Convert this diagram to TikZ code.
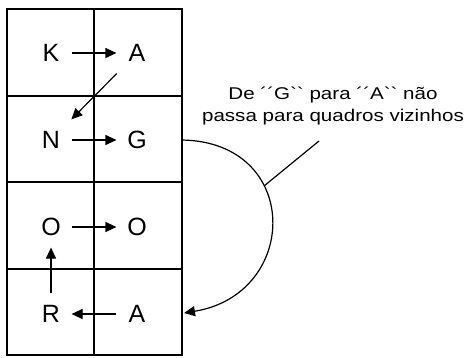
\documentclass[tikz,border=0pt]{standalone}
\usepackage{fontspec}
\setmainfont{Liberation Sans}
\newfontfamily\notefont{Liberation Sans}[FakeStretch=1.21]
\usepackage{tikz}
\usetikzlibrary{arrows.meta}

\begin{document}
\begin{tikzpicture}[
  x=1pt, y=-1pt, line width=1.2pt, >={Triangle[length=11pt,width=10pt]},
  letter/.style={inner sep=0pt, minimum width=40pt, minimum height=40pt,
                 font=\fontsize{25}{28}\selectfont},
  note/.style={align=center, font=\notefont\fontsize{17}{22}\selectfont},
  arr/.style={->, line width=1.2pt},
]
\useasboundingbox (0,0) rectangle (472,357);

% frame of two columns and four rows
\draw (7,9) rectangle (182,355);
\draw (94,9) -- (94,355);
\foreach \y in {96,182,269}
  \draw (7,\y) -- (182,\y);

% letters
\node[letter] (k)  at (51,53)  {K};
\node[letter] (a1) at (137,53) {A};
\node[letter] (n)  at (51,140) {N};
\node[letter] (g)  at (137,140) {G};
\node[letter] (o1) at (51,227) {O};
\node[letter] (o2) at (137,227) {O};
\node[letter] (r)  at (51,314) {R};
\node[letter] (a2) at (137,314) {A};

\draw[arr] (k)  -- (a1);
\draw[arr] (a1) -- (n);
\draw[arr] (n)  -- (g);
\draw[arr] (o1) -- (o2);
\draw[arr] (r)  -- (o1);
\draw[arr] (a2) -- (r);

% jump from G back down to A, outside the frame
\coordinate (gout) at (182,140);
\coordinate (ain)  at (184,313);
\draw[arr] (gout) .. controls (302,142) and (300,294) .. (ain);

\node[note] (rem) at (333,106) {De ´´G`\kern0pt` para ´´A`\kern0pt` não\\passa para quadros vizinhos};
\coordinate (lead) at (319,141);
\coordinate (tick) at (264,186);
\draw (lead) -- (tick);
\end{tikzpicture}
\end{document}
